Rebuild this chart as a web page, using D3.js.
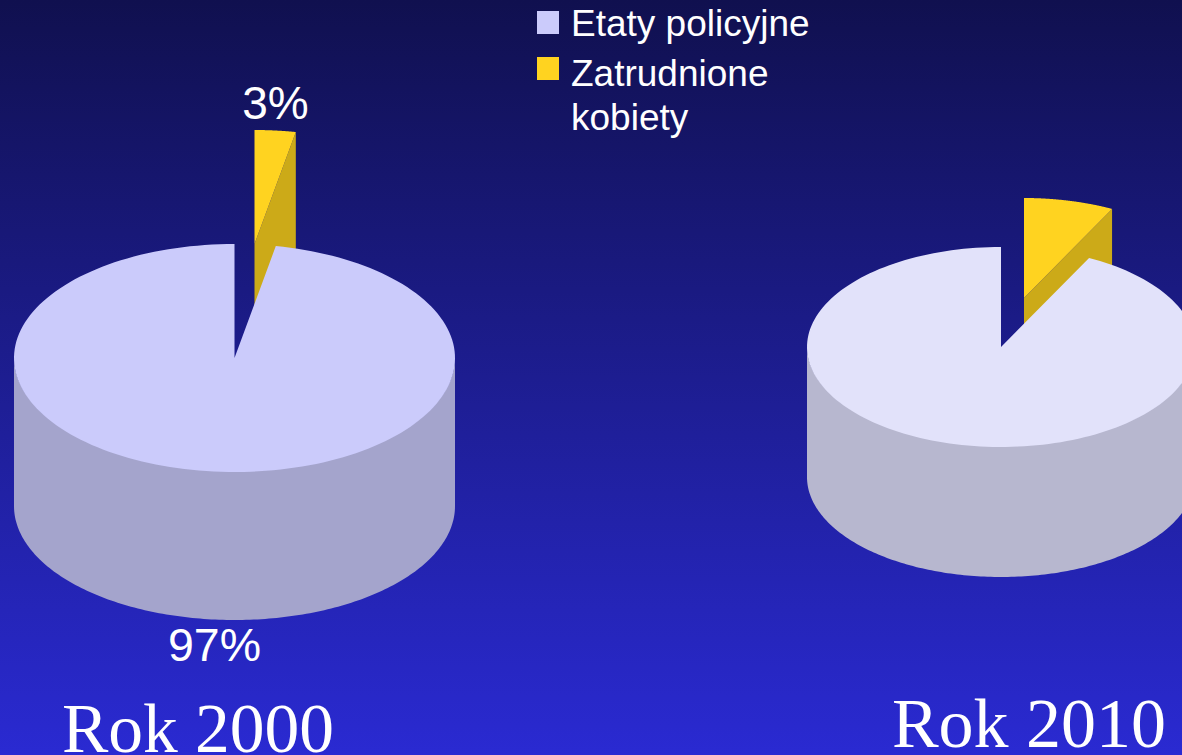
<!DOCTYPE html>
<html><head><meta charset="utf-8">
<style>html,body{margin:0;padding:0;background:#10104f}svg{display:block}</style>
<script src="https://cdn.jsdelivr.net/npm/d3@7/dist/d3.min.js"></script></head>
<body><svg id="c" width="1182" height="755"></svg>
<script>
const categories = ["Etaty policyjne", "Zatrudnione kobiety"];
const values2000 = [97, 3];
const values2010 = [92.5, 7.5];
const labels2000 = ["97%", "3%"];
const years = ["Rok 2000", "Rok 2010"];

const W = 1182, H = 755;
const svg = d3.select("#c");
const defs = svg.append("defs");
const g = defs.append("linearGradient").attr("id","bg").attr("x1",0).attr("y1",0).attr("x2",0).attr("y2",1);
[[0,"#10104f"],[1,"#2a2ad2"]].forEach(s=>g.append("stop").attr("offset",s[0]).attr("stop-color",s[1]));
svg.append("rect").attr("width",W).attr("height",H).attr("fill","url(#bg)");

function drawPie(values, o){
  const total = d3.sum(values);
  const ang = d3.scaleLinear().domain([0,total]).range([0,2*Math.PI]);
  const small = values[1], a = ang(small);
  const px = t => o.cx + o.rx*Math.sin(t), py = t => o.cy - o.ry*Math.cos(t);
  const line = d3.line();
  const G = svg.append("g");
  const arcPts = (t0,t1,dx=0,dy=0)=>d3.range(0,181).map(i=>{const t=t0+(t1-t0)*i/180;return [px(t)+dx,py(t)+dy];});
  // exploded small slice
  const y = G.append("g");
  const e = arcPts(0,a,o.ex,o.ey);
  const end = e[e.length-1], tip=[o.cx+o.ex,o.cy+o.ey];
  y.append("path").attr("fill",o.smallSide).attr("d",line([end,tip,[tip[0],tip[1]+o.depth],[end[0],end[1]+o.depth]])+"Z");
  y.append("path").attr("fill",o.smallTop).attr("d",line([tip,...e])+"Z");
  // wall of the big slice, tucked one pixel under the top face
  const wallTop = arcPts(Math.PI/2,3*Math.PI/2,0,-1);
  const wallBot = arcPts(Math.PI/2,3*Math.PI/2,0,o.depth).reverse();
  G.append("path").attr("fill",o.bigSide).attr("d",line([...wallTop,...wallBot])+"Z");
  // top of the big slice
  G.append("path").attr("fill",o.bigTop).attr("d",line([[o.cx,o.cy],...arcPts(a,2*Math.PI)])+"Z");
}
drawPie(values2000,{cx:234.5,cy:358,rx:220.5,ry:114,depth:148,ex:20,ey:-114,
  bigTop:"#cbcbfb",bigSide:"#a4a4cc",smallTop:"#ffd320",smallSide:"#ccaa18"});
drawPie(values2010,{cx:1001,cy:347,rx:194,ry:100,depth:130,ex:23,ey:-49,
  bigTop:"#e2e2fa",bigSide:"#b7b7cf",smallTop:"#ffd320",smallSide:"#ccaa18"});

const sans = "'Liberation Sans',Arial,sans-serif", serif="'Liberation Serif','Times New Roman',serif";
const text=(s,x,y,size,fam,anchor="start")=>svg.append("text").text(s).attr("x",x).attr("y",y).attr("font-size",size).attr("font-family",fam).attr("fill","#fff").attr("text-anchor",anchor);
text(labels2000[1],275.5,119,46,sans,"middle");
text(labels2000[0],214.5,661,46.5,sans,"middle");
text(years[0],198,751.5,69.5,serif,"middle");
text(years[1],1029,747,70,serif,"middle");

// legend
const leg = d3.scaleOrdinal().domain(categories).range(["#cbcbfb","#ffd320"]);
const swatchY = [11,57], rowsY = [[36],[86,130]], rowsText=[[categories[0]],["Zatrudnione","kobiety"]];
categories.forEach((c,i)=>{
  svg.append("rect").attr("x",537).attr("y",swatchY[i]).attr("width",22).attr("height",23).attr("fill",leg(c));
  rowsText[i].forEach((t,j)=>text(t,571,rowsY[i][j],37,sans));
});
</script></body></html>
